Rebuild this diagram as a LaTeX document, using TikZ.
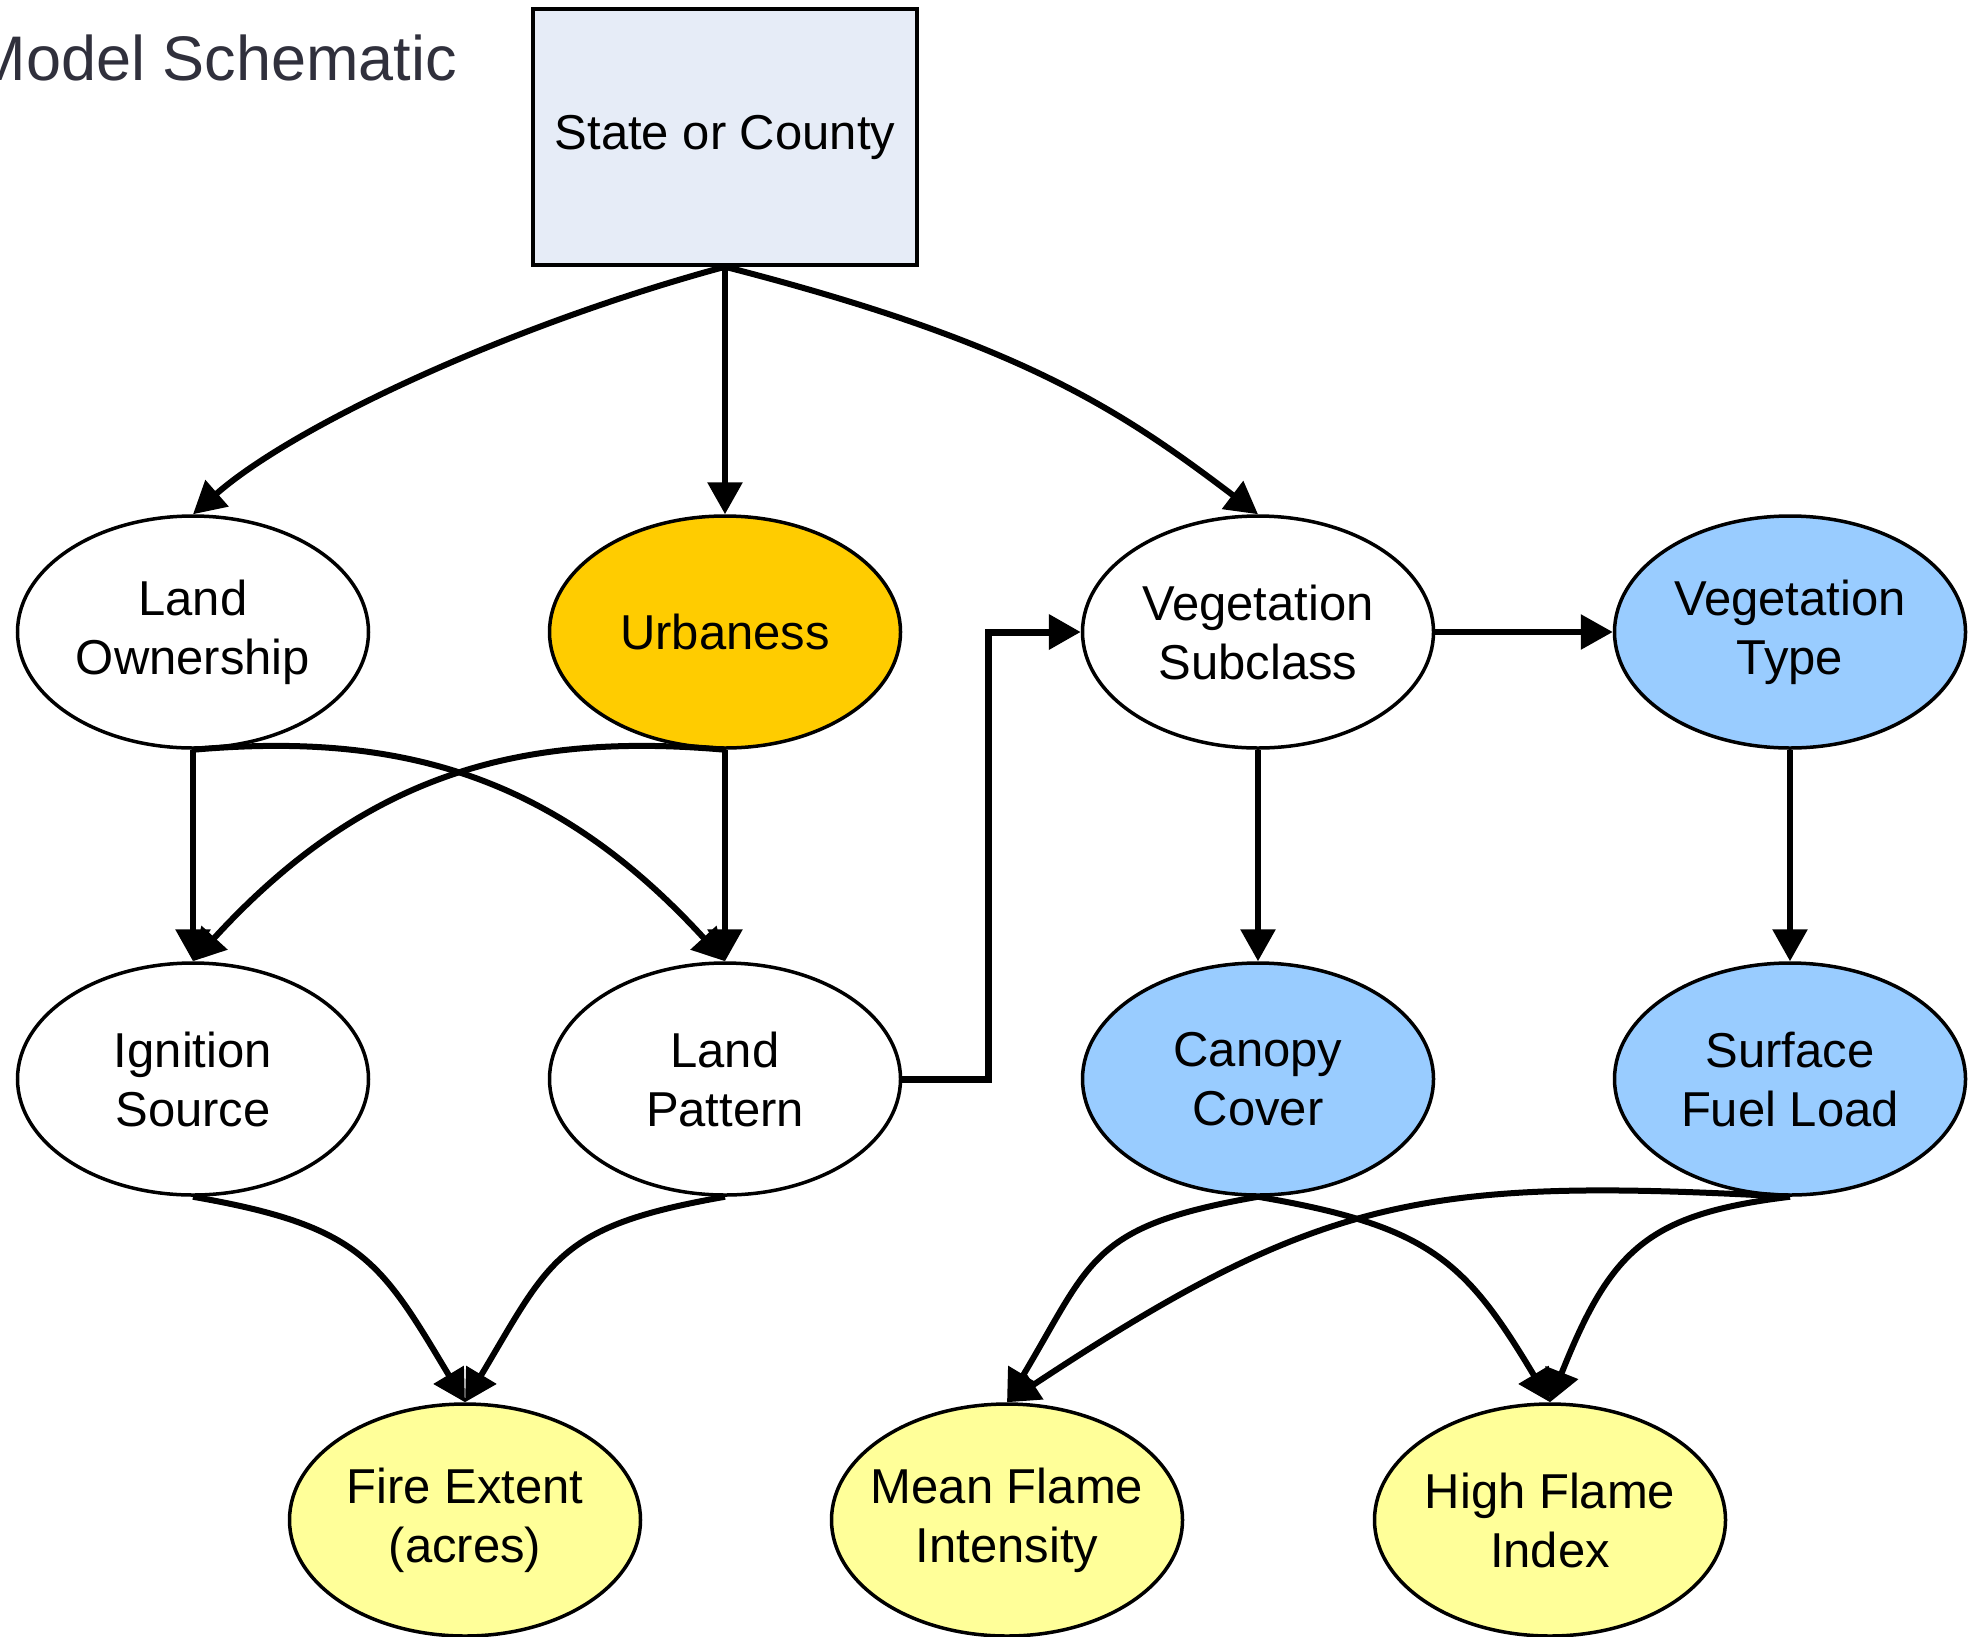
\documentclass[tikz,border=0pt]{standalone}
\usepackage{fontspec}
\setmainfont{Liberation Sans}
\usetikzlibrary{arrows.meta,shapes.geometric}
\definecolor{boxfill}{HTML}{E6ECF7}
\definecolor{urbfill}{HTML}{FFCC00}
\definecolor{bluefill}{HTML}{99CCFF}
\definecolor{yelfill}{HTML}{FFFF99}
\definecolor{titlecol}{HTML}{30303C}
\begin{document}
\begin{tikzpicture}[x=1pt,y=-1pt,
  ell/.style={ellipse, draw=black, line width=3.5pt, minimum width=351pt, minimum height=232pt,
    inner xsep=-50pt, inner ysep=0pt, align=center, font=\fontsize{49}{59}\selectfont},
  sbox/.style={rectangle, draw=black, line width=3.5pt, fill=boxfill, minimum width=384pt,
    minimum height=256pt, inner sep=0pt, align=center, font=\fontsize{49}{59}\selectfont},
  edge/.style={line width=6pt, -{Triangle[length=32pt,width=34pt]}, line join=miter}]
\useasboundingbox (0,0) rectangle (1981,1636);
\clip (0,0) rectangle (1981,1636);

\node[anchor=base east, inner sep=0pt, text=titlecol, font=\fontsize{63}{70}\selectfont] (title) at (457,80) {Model Schematic};

\node[sbox] (st) at (725,137) {State or County};

\node[ell, fill=white] (lo) at (193,632) {Land\\Ownership};
\node[ell, fill=urbfill] (ub) at (725,632) {Urbaness};
\node[ell, fill=white] (vs) at (1258,632) {Vegetation\\Subclass};
\node[ell, fill=bluefill] (vt) at (1790,632) {Vegetation\\Type};

\node[ell, fill=white] (ig) at (193,1079) {Ignition\\Source};
\node[ell, fill=white] (lp) at (725,1079) {Land\\Pattern};
\node[ell, fill=bluefill] (cc) at (1258,1079) {Canopy\\Cover};
\node[ell, fill=bluefill] (sf) at (1790,1079) {Surface\\Fuel Load};

\node[ell, fill=yelfill] (fe) at (465,1520) {Fire Extent\\(acres)};
\node[ell, fill=yelfill] (mf) at (1007,1520) {Mean Flame\\Intensity};
\node[ell, fill=yelfill] (hf) at (1550,1520) {High Flame\\Index};

% from State or County
\draw[edge] (st.south) .. controls (510,325) and (295,425) .. (lo.north);
\draw[edge] (st.south) -- (ub.north);
\draw[edge] (st.south) .. controls (1018,342) and (1118,408) .. (vs.north);

% row 1 -> row 2
\draw[edge] (lo.south) -- (ig.north);
\draw[edge] (ub.south) -- (lp.north);
\draw[edge] (lo.south) .. controls (395,732) and (552,772) .. (lp.north);
\draw[edge] (ub.south) .. controls (523,732) and (366,772) .. (ig.north);
\draw[edge, line width=7pt] (lp.east) -- ++(86,0) |- (vs.west);
\draw[edge] (vs.east) -- (vt.west);
\draw[edge] (vs.south) -- (cc.north);
\draw[edge] (vt.south) -- (sf.north);

% row 2 -> row 3
\draw[edge] (ig.south) .. controls (361,1226) and (380,1260) .. (fe.north);
\draw[edge] (lp.south) .. controls (557,1226) and (550,1260) .. (fe.north);
\draw[edge] (cc.south) .. controls (1090,1226) and (1092,1260) .. (mf.north);
\draw[edge] (cc.south) .. controls (1429,1226) and (1465,1260) .. (hf.north);
\draw[edge] (sf.south) .. controls (1426,1177) and (1322,1194) .. (mf.north);
\draw[edge] (sf.south) .. controls (1648,1214) and (1611,1249) .. (hf.north);
\end{tikzpicture}
\end{document}
